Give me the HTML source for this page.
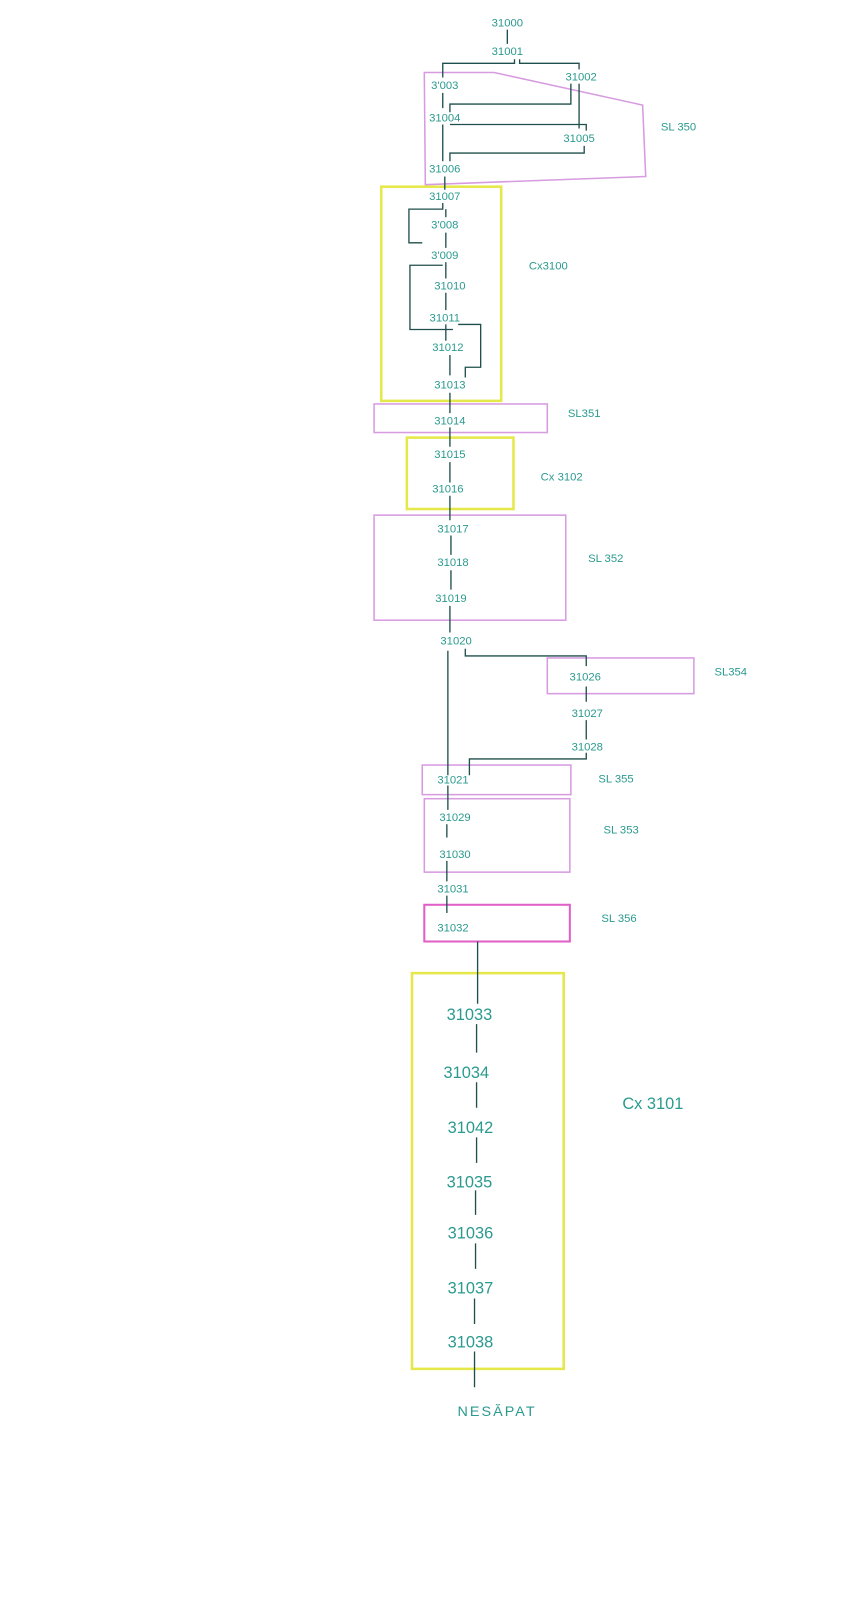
<!DOCTYPE html>
<html><head><meta charset="utf-8"><style>
html,body{margin:0;padding:0;background:#fff;}
svg{display:block}
text{font-family:"Liberation Sans","DejaVu Sans",sans-serif;fill:#2a9a8f;text-anchor:middle;}
.s{font-size:11px}
.b{font-size:16px}
.l{stroke:#1f4f4c;stroke-width:1.3;fill:none}
.m{stroke:#d79be0;stroke-width:1.5;fill:none}
.y{stroke:#e5e84a;stroke-width:2.5;fill:none}
</style></head><body>
<svg width="868" height="1600" viewBox="0 0 868 1600">
<rect width="868" height="1600" fill="#fff"/>
<g transform="matrix(1.025 0 0 1.02 2 -2)">
<polygon class="m" points="412,73 480,73 625,105 628,175 413,183"/>
<rect class="y" x="370" y="185" width="117" height="210"/>
<rect class="m" x="363" y="398" width="169" height="28"/>
<rect class="y" x="395" y="431" width="104" height="70"/>
<rect class="m" x="363" y="507" width="187" height="103"/>
<rect class="m" x="532" y="647" width="143" height="35"/>
<rect class="m" x="410" y="752" width="145" height="29"/>
<rect class="m" x="412" y="785" width="142" height="72"/>
<rect class="m" x="412" y="889" width="142" height="36" style="stroke:#e060c8;stroke-width:2"/>
<rect class="y" x="400" y="956" width="148" height="388"/>
<g class="l">
<path d="M493 31V45"/>
<path d="M500 60V64H430V78 M505 60V64H563V70"/>
<path d="M430 93V108 M430 124V160 M563 84V128"/>
<path d="M555 84V104H437V112"/>
<path d="M437 124H570V130"/>
<path d="M568 145V152H437V160"/>
<path d="M432 175V188"/>
<path d="M430 201V207H397V240H410 M433 207V215 M433 230V245"/>
<path d="M433 259V275 M433 289V306 M430 262H398V325H440 M433 320V336"/>
<path d="M445 320H467V362H452V372"/>
<path d="M437 350V370"/>
<path d="M437 387V407 M437 421V440 M437 455V475 M437 488V512"/>
<path d="M438 527V546 M438 561V580 M437 596V622"/>
<path d="M435 640V762 M452 638V645H570V655"/>
<path d="M570 675V690 M570 708V727 M570 740V746H456V762"/>
<path d="M435 772V796 M434 810V823 M434 846V866 M434 880V897"/>
<path d="M464 925V986 M463 1006V1034 M463 1063V1088 M463 1117V1142 M462 1169V1193 M462 1221V1246 M461 1275V1300 M461 1327V1362"/>
</g>
<g class="s">
<text x="493" y="28">31000</text>
<text x="493" y="56">31001</text>
<text x="565" y="81">31002</text>
<text x="432" y="89">3'003</text>
<text x="432" y="121">31004</text>
<text x="563" y="141">31005</text>
<text x="432" y="171">31006</text>
<text x="660" y="130">SL 350</text>
<text x="432" y="198">31007</text>
<text x="432" y="226">3'008</text>
<text x="432" y="256">3'009</text>
<text x="437" y="286">31010</text>
<text x="432" y="317">31011</text>
<text x="435" y="346">31012</text>
<text x="437" y="383">31013</text>
<text x="533" y="266">Cx3100</text>
<text x="437" y="418">31014</text>
<text x="568" y="411">SL351</text>
<text x="437" y="451">31015</text>
<text x="435" y="485">31016</text>
<text x="546" y="473">Cx 3102</text>
<text x="440" y="524">31017</text>
<text x="440" y="557">31018</text>
<text x="438" y="592">31019</text>
<text x="589" y="553">SL 352</text>
<text x="443" y="634">31020</text>
<text x="569" y="669">31026</text>
<text x="711" y="664">SL354</text>
<text x="571" y="705">31027</text>
<text x="571" y="738">31028</text>
<text x="440" y="770">31021</text>
<text x="599" y="769">SL 355</text>
<text x="442" y="807">31029</text>
<text x="442" y="843">31030</text>
<text x="604" y="819">SL 353</text>
<text x="440" y="877">31031</text>
<text x="440" y="915">31032</text>
<text x="602" y="906">SL 356</text>
</g>
<g class="b">
<text x="456" y="1002">31033</text>
<text x="453" y="1059">31034</text>
<text x="457" y="1113">31042</text>
<text x="456" y="1166">31035</text>
<text x="457" y="1216">31036</text>
<text x="457" y="1270">31037</text>
<text x="457" y="1323">31038</text>
<text x="635" y="1089">Cx 3101</text>
<text x="483" y="1390" style="letter-spacing:2px;font-size:14px">NESĂPAT</text>
</g>
</g>
</svg>
</body></html>
